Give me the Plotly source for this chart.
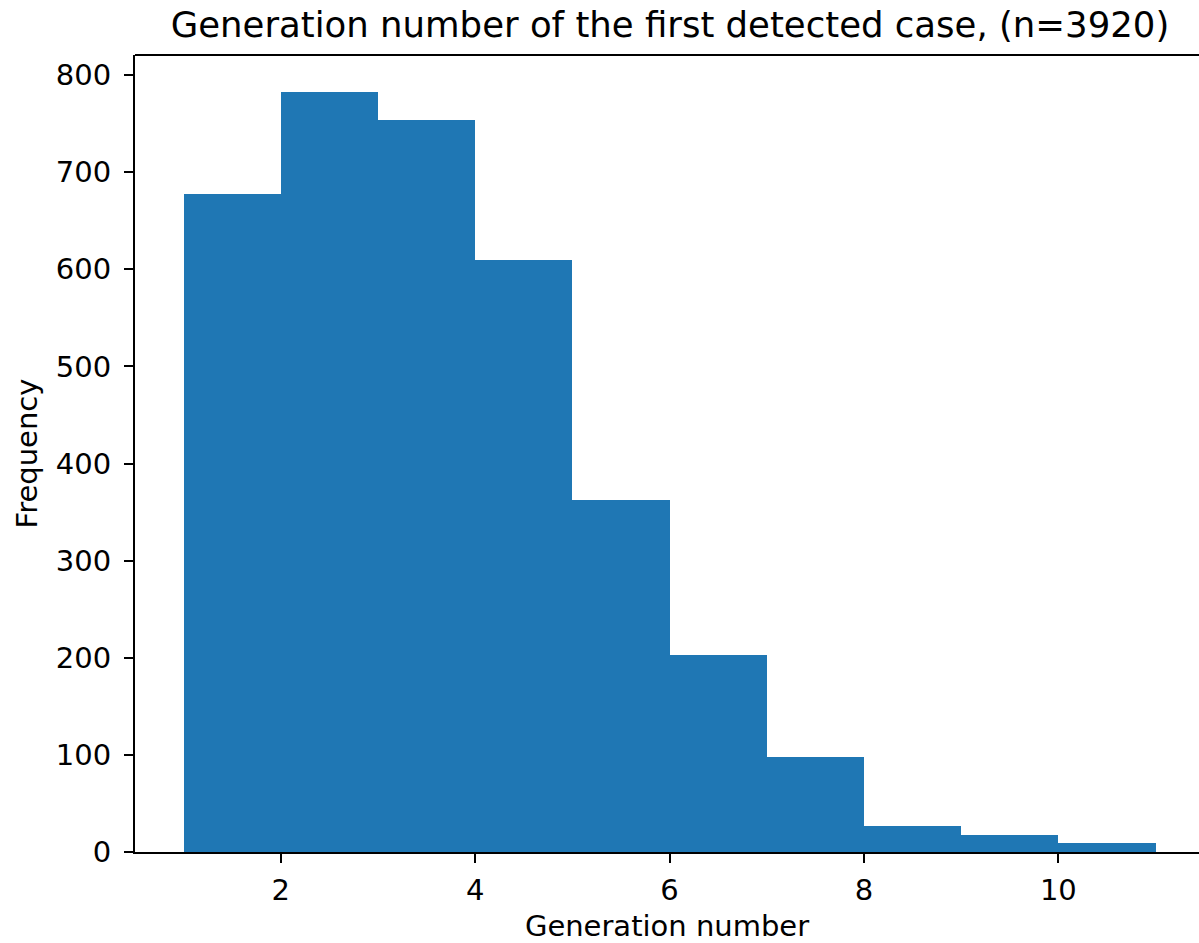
import plotly.graph_objects as go

bin_edges = [1, 2, 3, 4, 5, 6, 7, 8, 9, 10, 11]
counts = [678, 783, 754, 610, 362, 203, 98, 27, 18, 9]
y_ticks = [0, 100, 200, 300, 400, 500, 600, 700, 800]
x_ticks = [2, 4, 6, 8, 10]

title_text = "Generation number of the first detected case, (n=3920)"
x_label = "Generation number"
y_label = "Frequency"

left_edges = bin_edges[:-1]
widths = [b - a for a, b in zip(bin_edges[:-1], bin_edges[1:])]

FONT = "DejaVu Sans"
TICK_SIZE = 29
TITLE_SIZE = 35.5

fig = go.Figure()
fig.add_trace(go.Bar(
    x=left_edges,
    y=counts,
    width=widths,
    offset=0,
    marker=dict(color="#1f77b4", line=dict(width=0)),
    showlegend=False,
))

fig.update_layout(
    width=1199,
    height=943,
    margin=dict(l=135, r=0, t=55, b=91),
    paper_bgcolor="white",
    plot_bgcolor="white",
    font=dict(family=FONT, size=TICK_SIZE, color="black"),
    bargap=0,
    title=dict(
        text=title_text,
        font=dict(family=FONT, size=TITLE_SIZE, color="black"),
        x=670 / 1199, xanchor="center",
        y=1 - 25 / 943, yanchor="middle",
        yref="container", xref="container",
    ),
    xaxis=dict(
        range=[0.5, 11.447],
        tickmode="array",
        tickvals=x_ticks,
        ticks="outside",
        ticklen=9,
        tickwidth=2,
        tickcolor="black",
        showline=True,
        linecolor="black",
        linewidth=2,
        showgrid=False,
        zeroline=False,
        ticklabelstandoff=2,
        title=dict(text=x_label, font=dict(family=FONT, size=TICK_SIZE), standoff=12),
        tickfont=dict(family=FONT, size=TICK_SIZE, color="black"),
    ),
    yaxis=dict(
        range=[0, 820.6],
        tickmode="array",
        tickvals=y_ticks,
        ticks="outside",
        ticklen=9,
        tickwidth=2,
        tickcolor="black",
        showline=True,
        linecolor="black",
        linewidth=2,
        showgrid=False,
        zeroline=False,
        ticklabelstandoff=7,
        title=dict(text=y_label, font=dict(family=FONT, size=TICK_SIZE), standoff=10),
        tickfont=dict(family=FONT, size=TICK_SIZE, color="black"),
    ),
    shapes=[dict(
        type="line", xref="paper", yref="paper",
        x0=0, x1=1, y0=1, y1=1,
        line=dict(color="black", width=2),
    )],
)

fig.write_html("out.html")
